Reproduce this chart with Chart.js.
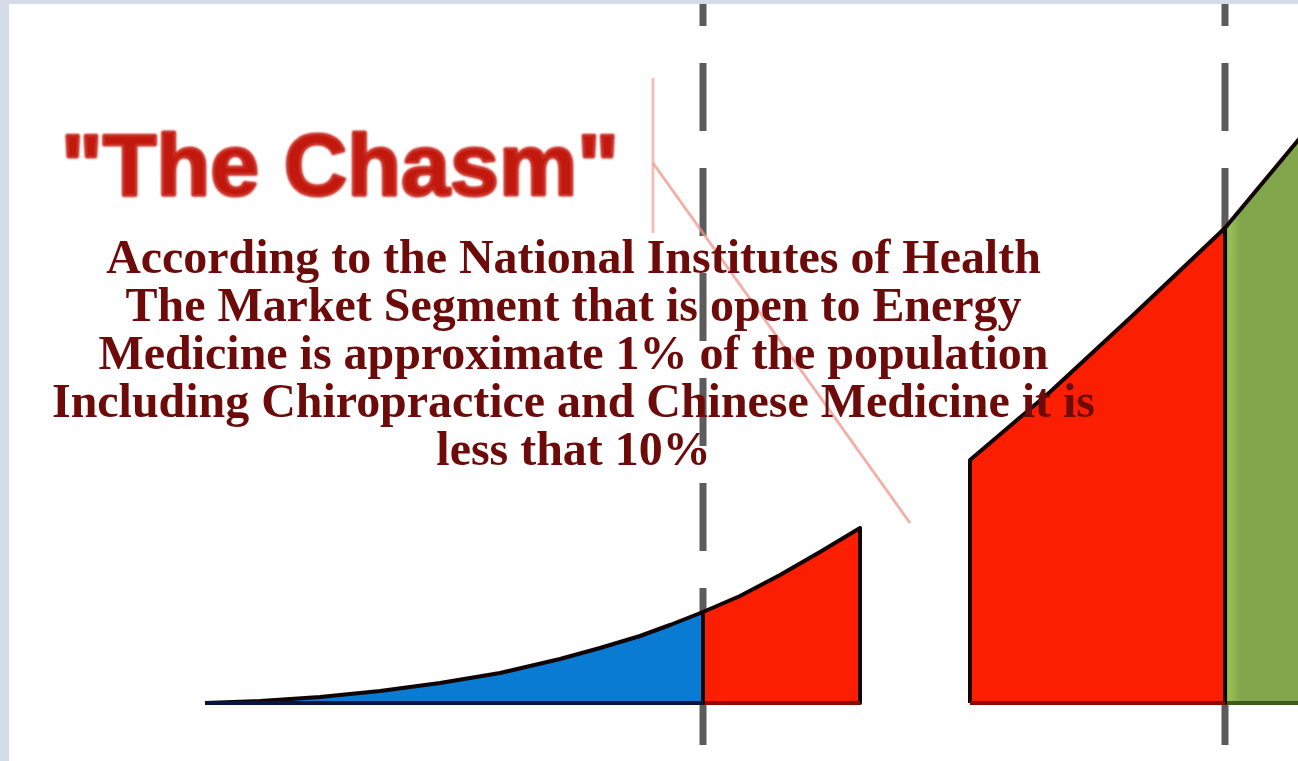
<!DOCTYPE html>
<html>
<head>
<meta charset="utf-8">
<script src="https://cdn.jsdelivr.net/npm/chart.js@4.4.1/dist/chart.umd.min.js"></script>
<style>
  html, body { margin: 0; padding: 0; }
  body { width: 1298px; height: 761px; background: #d4dbeb; overflow: hidden; position: relative; }
  #wrap { position: absolute; left: 9px; top: 4px; width: 1289px; height: 757px; background: #fff; }
</style>
</head>
<body>
<div id="wrap"><canvas id="chasm" width="1289" height="757"></canvas></div>
<script>
// adoption curve (x = time, y = adopters)
const innovatorsX = [19.6, 25.1, 31.1, 37.1, 43.1, 49.1, 55.1, 59.1, 63.1, 66.1, 69.4];
const innovatorsY = [0, 0.2, 0.6, 1.2, 2.0, 3.0, 4.4, 5.5, 6.7, 7.8, 9.1];
const earlyAdoptersX = [69.4, 73.1, 77.1, 81.1, 85.1];
const earlyAdoptersY = [9.1, 10.7, 12.8, 15.1, 17.5];
const earlyMajorityX = [96.1, 104.1, 112.1, 121.6];
const earlyMajorityY = [24.3, 31.1, 38.5, 47.5];
const lateMajorityX = [121.6, 130.1];
const lateMajorityY = [47.5, 57.7];
const dividerX = [69.4, 121.6];
const pointerX = [64.4, 64.4, 90.1];
const pointerY = [47.0, 62.5, 54.0, 18.0];

const titleText = '"The Chasm"';
const noteLines = [
  'According to the National Institutes of Health',
  'The Market Segment that is open to Energy',
  'Medicine is approximate 1% of the population',
  'Including Chiropractice and Chinese Medicine it is',
  'less that 10%'
];

const X_MIN = 0, X_MAX = 128.9, Y_MIN = -5.8, Y_MAX = 69.9;

function shape(xs, ys) {
  let pts = [{x: xs[0], y: 0}];
  xs.forEach((x, i) => pts.push({x: x, y: ys[i]}));
  pts.push({x: xs[xs.length - 1], y: 0});
  pts.push({x: xs[0], y: 0});
  return pts;
}

function area(label, xs, ys, fillColor, baseColor) {
  return {
    label: label,
    data: shape(xs, ys),
    backgroundColor: fillColor,
    borderColor: '#120404',
    borderWidth: 4,
    fill: 'origin',
    order: 3,
    segment: {
      borderColor: c => (c.p0.parsed.y === 0 && c.p1.parsed.y === 0) ? baseColor : undefined
    }
  };
}

// green block has a lighter band along its left edge
function greenFill(c) {
  const ch = c.chart;
  if (!ch.chartArea) return '#80a54a';
  const x0 = ch.scales.x.getPixelForValue(lateMajorityX[0]);
  const g = ch.ctx.createLinearGradient(x0, 0, x0 + 16, 0);
  g.addColorStop(0, '#80a54a');
  g.addColorStop(0.3, '#96c055');
  g.addColorStop(1, '#80a54a');
  return g;
}

let datasets = [
  area('Innovators', innovatorsX, innovatorsY, '#0a7bd3', '#07153a'),
  area('Early Adopters', earlyAdoptersX, earlyAdoptersY, '#fb1e00', '#8c0a00'),
  area('Early Majority', earlyMajorityX, earlyMajorityY, '#fb1e00', '#8c0a00'),
  area('Late Majority', lateMajorityX, lateMajorityY, greenFill, '#3f5a1f')
];

dividerX.forEach(x => {
  datasets.push({
    label: 'divider',
    data: [{x: x, y: Y_MAX}, {x: x, y: -4.2}],
    borderColor: '#5c5c5c',
    borderWidth: 7,
    borderDash: [68, 37],
    borderDashOffset: 46,
    fill: false,
    order: 5
  });
});

// thin pink pointer into the gap
datasets.push({
  label: 'pointer',
  data: [{x: pointerX[0], y: pointerY[0]}, {x: pointerX[1], y: pointerY[1]}],
  borderColor: 'rgba(236,150,140,0.6)',
  borderWidth: 3,
  fill: false,
  order: 1
});
datasets.push({
  label: 'pointer2',
  data: [{x: pointerX[1], y: pointerY[2]}, {x: pointerX[2], y: pointerY[3]}],
  borderColor: 'rgba(236,150,140,0.75)',
  borderWidth: 3,
  fill: false,
  order: 1
});

const textPlugin = {
  id: 'chasmText',
  afterDatasetsDraw(chart) {
    const c = chart.ctx;
    c.save();
    // title
    c.font = 'bold 88px "Liberation Sans", Arial, sans-serif';
    c.fillStyle = '#c2180d';
    c.strokeStyle = '#c2180d';
    c.lineWidth = 2.5;
    c.lineJoin = 'round';
    c.textAlign = 'left';
    c.textBaseline = 'alphabetic';
    c.filter = 'blur(1.2px)';
    let tw = c.measureText(titleText).width;
    c.save();
    c.translate(52, 191);
    c.scale(558 / tw, 1);
    c.fillText(titleText, 0, 0);
    c.strokeText(titleText, 0, 0);
    c.restore();
    c.filter = 'none';

    // note block
    c.font = 'bold 48px "Liberation Serif", "Times New Roman", serif';
    c.fillStyle = '#6d0a0a';
    c.textAlign = 'center';
    let sx = 1043 / c.measureText(noteLines[3]).width;
    noteLines.forEach((line, i) => {
      c.save();
      c.translate(564.5, 269 + i * 48);
      c.scale(sx, 1);
      c.fillText(line, 0, 0);
      c.restore();
    });
    c.restore();
  }
};

const chart = new Chart(document.getElementById('chasm'), {
  type: 'line',
  data: { datasets: datasets },
  options: {
    responsive: false,
    animation: false,
    layout: { padding: 0 },
    elements: { point: { radius: 0 }, line: { tension: 0, borderJoinStyle: 'round' } },
    plugins: { legend: { display: false }, tooltip: { enabled: false } },
    scales: {
      x: { type: 'linear', min: X_MIN, max: X_MAX, display: false },
      y: { type: 'linear', min: Y_MIN, max: Y_MAX, display: false }
    }
  },
  plugins: [textPlugin]
});
</script>
</body>
</html>
